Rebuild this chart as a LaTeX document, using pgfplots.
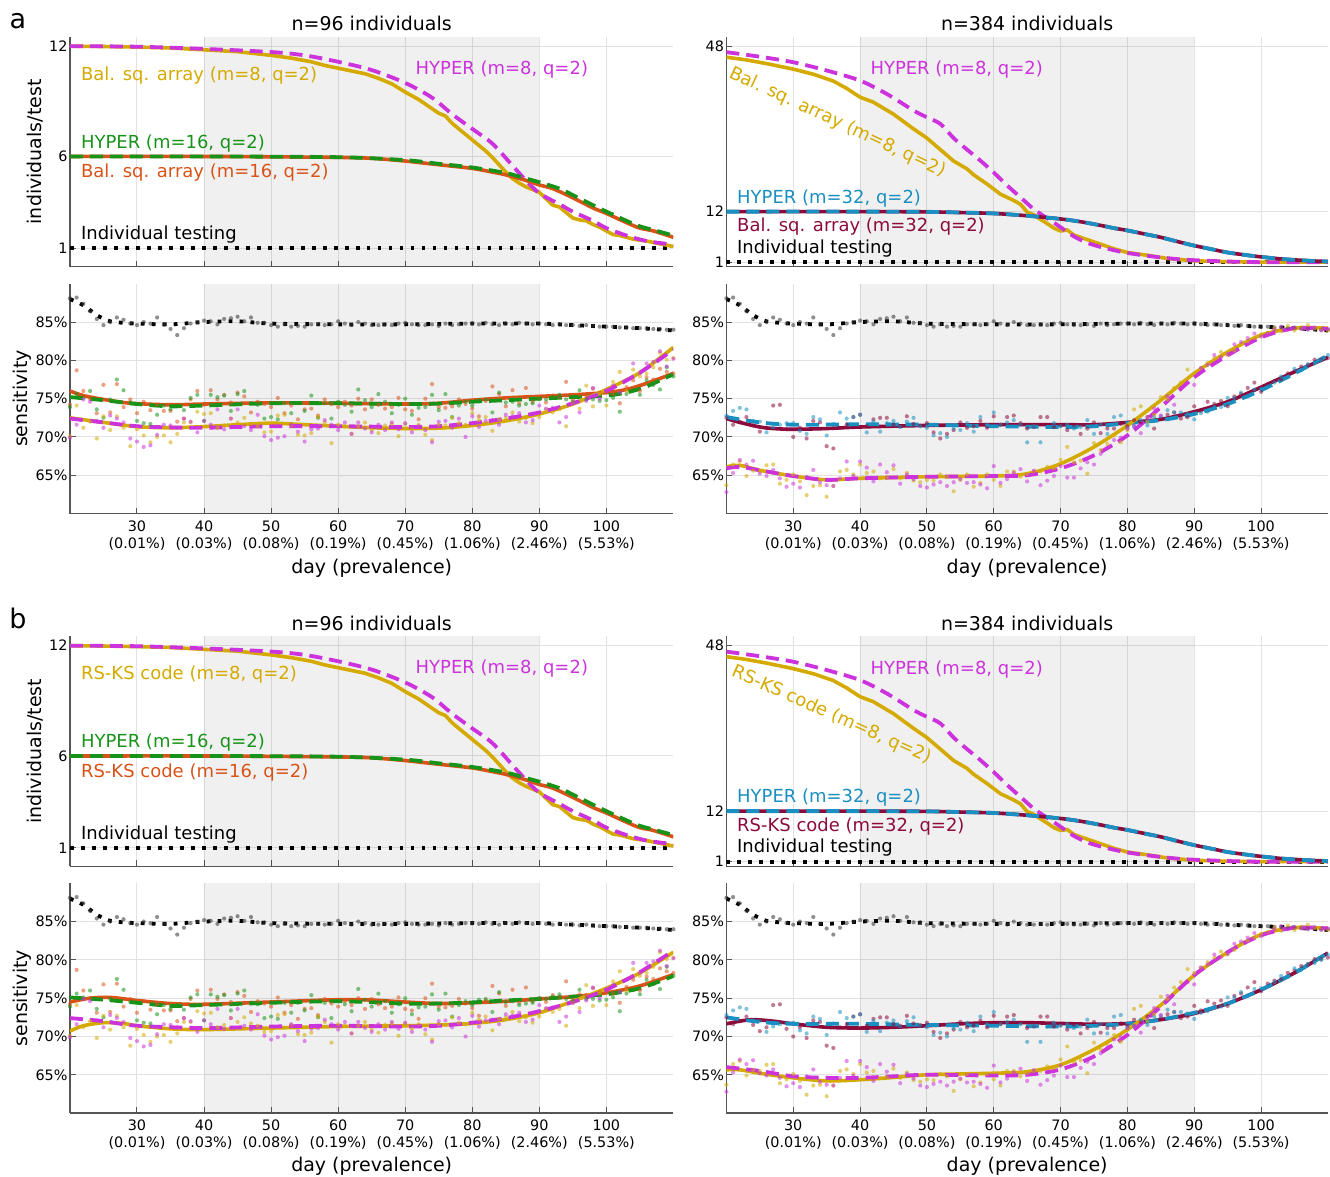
\documentclass[border=0pt]{standalone}
\usepackage{fontspec}
\setmainfont{DejaVu Sans}
\usepackage{pgfplots}
\usepackage{pgfplotstable}
\pgfplotsset{compat=1.18}

\definecolor{cyl}{HTML}{D4AA00}
\definecolor{cmg}{HTML}{CC33DD}
\definecolor{cog}{HTML}{D95319}
\definecolor{cgr}{HTML}{18931A}
\definecolor{cbl}{HTML}{1A8FC1}
\definecolor{cdr}{HTML}{8C0A3C}
\definecolor{axgray}{HTML}{555555}
\definecolor{grgray}{HTML}{E2E2E2}

\tikzset{
  ann/.style={anchor=west, inner sep=0pt, font=\fontsize{9}{10}\selectfont},
  solidc/.style={line width=1.8pt},
  dashc/.style={line width=1.9pt, dash pattern=on 6.5pt off 3.5pt},
  dotk/.style={black, line width=1.9pt, dash pattern=on 1.9pt off 3.6pt},
}
\pgfplotsset{
  base/.style={scale only axis, height=115pt, xmin=20, xmax=110, anchor=south west,
    axis x line*=bottom, axis y line*=left,
    axis line style={draw=axgray, line width=0.7pt},
    xtick={30,40,50,60,70,80,90,100},
    grid=major, major grid style={draw=grgray, line width=0.5pt},
    major tick length=3pt, tick align=inside, tick style={draw=axgray, line width=0.5pt},
    tick label style={font=\fontsize{7.2}{8.5}\selectfont, text=black},
    yticklabel style={inner sep=1pt},
  },
  topL/.style={base, width=302pt, ymin=0, ymax=12.5, ytick={1,6,12}, yticklabels={1,6,12}, xticklabels={}},
  topR/.style={base, width=301pt, ymin=0, ymax=50, ytick={1,12,48}, yticklabels={1,12,48}, xticklabels={}},
  bot/.style={base, ymin=60, ymax=90, ytick={65,70,75,80,85}, yticklabels={65\%,70\%,75\%,80\%,85\%},
    xticklabels={{30\\(0.01\%)},{40\\(0.03\%)},{50\\(0.08\%)},{60\\(0.19\%)},{70\\(0.45\%)},{80\\(1.06\%)},{90\\(2.46\%)},{100\\(5.53\%)}},
    xticklabel style={align=center}},
  botL/.style={bot, width=302pt},
  botR/.style={bot, width=301pt},
  sc/.style={only marks, mark=*, mark size=1.05pt, color=#1, mark options={draw opacity=0, fill=#1, fill opacity=0.55}},
}

% ---------- top curves ----------
\pgfplotstableread{
d v
20 12
30 11.97
40 11.85
50 11.68
55 11.5
60 11.15
65 10.7
70 10.0
74 9.2
77 8.3
80 7.5
83 6.7
86 5.5
88 4.7
90 4.0
93 3.4
95 3.0
98 2.5
100 2.1
103 1.7
106 1.4
110 1.2
}\tLmg
\pgfplotstableread{
d v
20 12
25 11.98
30 11.95
35 11.9
40 11.8
45 11.7
50 11.5
53 11.35
56 11.15
58 10.95
60 10.8
62 10.65
64 10.5
66 10.25
68 9.95
70 9.5
72 9.1
74 8.6
75 8.35
76 8.2
77 7.8
78 7.5
79 7.2
80 6.9
81 6.6
82 6.3
83 5.95
84 5.55
85 5.15
86 4.8
87 4.55
88 4.35
89 4.2
90 4.05
91 3.7
92 3.35
93 3.25
94 2.95
95 2.65
96 2.55
97 2.5
98 2.3
99 2.15
100 1.95
101 1.75
102 1.7
103 1.6
104 1.5
106 1.4
108 1.25
110 1.1
}\tLyl
\pgfplotstableread{
d v
20 6
40 6
50 5.98
60 5.95
65 5.9
70 5.75
75 5.55
80 5.35
83 5.15
85 5.0
88 4.7
90 4.45
92 4.25
95 3.75
98 3.2
100 2.9
103 2.4
105 2.1
107 1.95
110 1.6
}\tLog
\pgfplotstableread{
d v
20 6
40 6
60 5.96
70 5.8
75 5.6
80 5.4
85 5.1
88 4.8
90 4.6
93 4.25
95 3.9
98 3.35
100 3.0
103 2.5
105 2.2
107 2.0
110 1.7
}\tLgr
\pgfplotstableread{
d v
20 46.7
25 45.7
30 44.5
35 42.7
40 40.5
44 37.6
48 34.0
50 32.5
52 31.1
54 28.0
56 25.5
58 23.1
60 20.5
62 17.7
64 15.1
66 12.5
67 11.5
69 9.6
70 8.6
72 6.6
74 5.2
76 4.3
78 3.6
80 3.0
84 2.2
88 1.6
92 1.3
96 1.1
100 1.0
110 1.0
}\tRmg
\pgfplotstableread{
d v
20 45.6
23 45.0
26 44.2
30 43.0
33 41.9
36 40.4
38 38.8
40 36.9
42 35.8
45 33.2
48 30.0
50 28.0
52 25.5
54 23.0
56 21.3
57 20.0
59 18.0
61 15.8
63 14.4
64 13.6
65 11.9
66 11.3
67 10.3
68 9.4
69 8.4
70 7.8
71 8.0
72 6.9
74 5.9
76 4.9
78 3.9
80 3.1
83 2.5
86 1.8
90 1.3
95 1.1
100 1.0
110 1.0
}\tRyl
\pgfplotstableread{
d v
20 12
40 12
50 11.95
55 11.8
60 11.6
65 11.1
70 10.4
73 9.8
76 9.0
78 8.4
80 7.9
83 7.0
85 6.4
88 5.3
90 4.6
93 3.7
95 3.1
98 2.5
100 2.15
103 1.7
105 1.5
108 1.25
110 1.15
}\tRdr

% ---------- scatter ----------
\pgfplotstableread{
d bk og gr yl mg
20 88.1 74.2 73.9 70.1 69.9
21 88.2 78.7 75.6 74.1 71.6
22 87.4 76.0 75.1 71.2 74.9
23 86.4 75.0 76.0 72.0 74.6
24 85.4 73.1 73.6 69.8 72.1
25 84.6 76.8 72.5 72.7 71.2
26 85.0 73.2 74.9 70.9 72.8
27 85.6 76.9 77.5 72.7 72.4
28 85.3 73.9 76.1 71.2 71.9
29 84.8 74.9 74.5 68.8 69.8
30 84.6 73.1 72.1 71.0 69.4
31 85.0 74.6 71.8 70.2 68.7
32 84.8 73.5 71.7 69.3 68.9
33 85.6 74.2 72.9 70.0 70.3
34 84.7 73.4 74.1 70.2 71.6
35 84.1 73.4 73.6 69.3 71.5
36 83.3 72.0 74.1 70.4 71.2
37 84.2 72.4 73.5 71.9 72.4
38 84.8 74.9 75.1 71.9 72.0
39 85.0 76.0 75.5 73.3 70.6
40 85.2 74.2 72.1 73.0 72.1
41 85.1 76.1 75.5 73.1 71.6
42 84.7 74.9 75.2 71.2 73.6
43 85.4 75.5 75.4 71.5 71.0
44 85.5 74.5 73.4 72.4 72.4
45 85.7 75.8 75.6 71.9 73.6
46 85.1 75.3 76.0 72.5 71.4
47 85.6 73.2 74.4 71.7 70.9
48 84.9 74.6 74.2 71.4 72.9
49 84.9 74.3 72.4 70.6 70.1
50 84.6 73.9 72.6 70.7 69.6
51 84.4 75.1 72.3 72.8 69.9
52 84.7 73.1 74.4 72.9 70.1
53 84.4 74.1 73.1 71.5 71.6
54 84.5 72.3 74.4 70.3 70.7
55 84.4 73.6 73.4 70.2 69.4
56 84.7 73.7 75.4 70.5 71.0
57 84.7 72.8 72.5 72.6 71.1
58 84.6 74.9 74.4 71.9 72.2
59 84.7 74.3 72.4 69.2 71.6
60 85.1 73.9 74.6 71.6 70.9
61 84.8 74.6 74.2 71.4 71.9
62 84.6 74.1 73.3 70.4 70.4
63 85.0 75.0 76.2 71.4 71.9
64 84.8 73.6 74.8 71.9 71.1
65 84.6 74.9 73.9 70.9 70.6
66 84.6 74.2 75.6 70.5 71.6
67 84.7 73.7 74.6 71.5 70.9
68 84.6 73.9 73.1 71.7 71.9
69 84.8 75.1 74.2 70.1 71.0
70 84.9 73.6 75.0 71.7 71.8
71 84.7 73.4 72.9 71.0 70.6
72 84.6 72.3 73.8 71.6 71.4
73 84.6 75.0 73.9 70.3 70.9
74 84.7 76.9 75.5 69.6 69.3
75 84.5 73.9 73.5 71.6 72.0
76 84.8 73.8 75.6 71.5 72.1
77 84.6 74.0 72.6 72.5 71.2
78 84.7 74.9 74.1 71.8 72.4
79 84.8 74.3 74.6 71.6 70.0
80 84.8 73.7 74.1 73.1 72.7
81 84.7 72.7 74.8 72.2 71.3
82 84.9 74.7 74.9 72.6 72.1
83 84.7 76.6 73.2 70.8 72.2
84 84.6 75.6 75.8 72.3 71.6
85 84.8 74.0 74.5 72.5 72.9
86 84.7 76.1 74.6 73.2 72.7
87 84.9 74.4 74.1 72.0 73.1
88 84.8 76.4 74.3 72.5 71.9
89 84.7 74.6 74.4 71.8 72.2
90 84.8 75.0 75.0 72.6 74.1
91 84.7 74.5 74.9 73.6 73.7
92 84.6 75.4 75.2 73.2 73.8
93 84.7 75.2 75.5 73.6 71.9
94 84.6 77.2 74.9 71.4 72.6
95 84.6 74.8 74.6 74.4 74.4
96 84.5 75.5 76.1 73.7 73.2
97 84.6 75.4 74.9 76.7 74.7
98 84.5 76.3 74.9 74.0 76.4
99 84.4 75.8 74.7 75.6 75.0
100 84.4 75.8 74.8 74.1 76.0
101 84.4 75.6 75.1 77.2 76.7
102 84.3 74.4 73.3 78.5 75.8
103 84.3 76.5 75.6 76.0 77.4
104 84.2 77.4 76.1 78.8 79.6
105 84.2 76.0 75.5 77.9 78.3
106 84.2 77.8 77.4 78.3 79.6
107 84.1 77.5 76.8 79.1 79.8
108 84.1 78.9 76.2 81.0 81.2
109 84.0 78.5 79.1 80.1 79.2
110 84.0 78.3 77.9 80.3 80.2
}\scL
\pgfplotstableread{
d dr bl yl mg
20 72.5 72.8 63.7 62.8
21 71.6 73.4 66.4 65.3
22 72.0 73.8 66.8 67.0
23 72.6 73.6 64.9 66.4
24 71.5 72.1 65.6 66.9
25 70.7 72.0 65.5 65.2
26 71.2 70.6 66.3 64.9
27 74.1 71.3 66.4 65.7
28 74.2 71.6 63.9 64.6
29 71.0 71.8 64.4 63.5
30 70.0 71.8 65.1 63.9
31 71.2 70.8 64.2 63.4
32 69.8 70.4 62.4 64.8
33 72.1 72.6 63.6 65.7
34 71.9 72.3 63.7 64.1
35 68.8 70.2 62.2 63.7
36 68.5 71.7 63.6 63.6
37 71.2 73.2 65.5 64.6
38 71.6 72.4 65.7 66.8
39 72.6 72.6 65.1 64.9
40 72.9 72.9 66.4 66.8
41 71.4 70.6 65.3 66.0
42 72.3 72.0 65.5 64.2
43 72.5 70.7 64.6 66.4
44 72.5 71.8 64.7 65.4
45 71.6 72.1 65.8 66.3
46 71.4 71.3 64.6 63.9
47 72.7 72.0 65.3 65.1
48 71.7 72.5 64.3 64.5
49 71.5 71.4 64.1 63.6
50 71.8 71.2 64.4 63.4
51 70.6 70.2 64.3 63.8
52 69.8 70.5 65.1 64.1
53 70.4 70.0 64.8 63.6
54 70.9 71.1 62.9 64.1
55 71.9 70.9 64.4 64.5
56 71.2 71.8 65.1 64.0
57 71.4 70.7 63.5 64.1
58 72.1 72.6 64.0 63.8
59 71.2 71.6 65.1 63.3
60 72.7 73.2 64.4 66.2
61 71.6 71.6 63.6 64.0
62 72.6 71.9 65.5 64.5
63 72.8 72.2 65.5 65.3
64 71.8 71.6 64.8 65.8
65 71.1 69.3 65.2 64.2
66 71.3 71.4 65.5 65.6
67 72.6 69.3 65.5 63.7
68 72.6 71.3 66.1 64.3
69 71.3 71.8 65.9 64.9
70 71.5 71.4 67.0 66.2
71 70.9 71.6 68.7 64.7
72 71.5 71.1 66.7 64.7
73 70.4 71.3 66.9 65.9
74 71.1 72.2 65.2 66.7
75 71.9 70.4 69.2 66.4
76 70.5 71.6 68.3 67.8
77 71.1 70.4 69.1 68.6
78 71.1 72.6 70.2 69.6
79 71.7 72.8 69.3 69.9
80 71.4 71.1 70.9 71.1
81 72.2 71.4 73.6 71.4
82 71.9 72.2 74.0 70.5
83 72.6 71.5 72.0 72.4
84 71.1 72.6 72.9 73.7
85 72.4 72.7 75.2 72.8
86 72.9 73.5 74.9 75.3
87 73.2 73.2 76.4 74.2
88 72.4 73.2 77.1 76.4
89 72.6 73.0 78.8 77.1
90 74.0 72.3 78.3 76.8
91 73.4 73.1 79.0 79.0
92 74.6 73.3 79.7 79.4
93 74.3 73.9 80.3 80.7
94 74.7 73.9 81.1 80.4
95 74.0 75.1 80.7 80.8
96 75.3 75.1 81.3 82.1
97 75.6 75.8 82.1 82.4
98 76.4 75.3 82.5 82.9
99 77.1 76.2 82.9 83.5
100 75.9 76.3 83.4 83.1
101 76.9 76.6 83.6 83.5
102 77.3 77.1 84.2 84.0
103 77.5 77.9 83.8 84.4
104 78.3 77.8 84.5 84.0
105 78.6 78.9 83.9 84.3
106 79.2 78.7 84.3 84.1
107 79.4 79.5 84.6 84.0
108 80.1 79.6 84.2 84.3
109 80.1 80.0 84.0 83.9
110 80.3 80.7 83.9 84.1
}\scR

\newcommand{\shadeband}{\fill[black, fill opacity=0.06] ({axis cs:40,0}|-{rel axis cs:0,0}) rectangle ({axis cs:90,0}|-{rel axis cs:0,1});}
\newcommand{\blackline}{\addplot[dotk, smooth] coordinates {(20,88.0) (22,87.2) (24,85.9) (26,85.1) (28,84.9) (30,84.8) (35,84.7) (40,85.0) (45,85.1) (50,84.8) (60,84.7) (70,84.7) (80,84.8) (90,84.8) (95,84.6) (100,84.4) (105,84.2) (110,83.9)};}

\newcommand{\TopLeft}[2]{%
\begin{axis}[topL, at={(35pt,#1)}]
\shadeband
\addplot[dotk] coordinates {(20,1) (110,1)};
\addplot[cyl, solidc] table[x=d,y=v]{\tLyl};
\addplot[cmg, dashc, smooth] table[x=d,y=v]{\tLmg};
\addplot[cog, solidc, smooth] table[x=d,y=v]{\tLog};
\addplot[cgr, dashc, smooth] table[x=d,y=v]{\tLgr};
\node[ann, text=cyl] at (axis cs:21.6,10.41) {#2 (m=8, q=2)};
\node[ann, text=cmg] at (axis cs:71.5,10.74) {HYPER (m=8, q=2)};
\node[ann, text=cgr] at (axis cs:21.6,6.72) {HYPER (m=16, q=2)};
\node[ann, text=cog] at (axis cs:21.6,5.12) {#2 (m=16, q=2)};
\node[ann, text=black] at (axis cs:21.6,1.75) {Individual testing};
\end{axis}}

\newcommand{\TopRight}[4]{%
\begin{axis}[topR, at={(363.5pt,#1)}]
\shadeband
\addplot[dotk] coordinates {(20,1) (110,1)};
\addplot[cyl, solidc] table[x=d,y=v]{\tRyl};
\addplot[cmg, dashc, smooth] table[x=d,y=v]{\tRmg};
\addplot[cdr, solidc, smooth] table[x=d,y=v]{\tRdr};
\addplot[cbl, dashc, smooth] table[x=d,y=v]{\tRdr};
\node[ann, text=cmg] at (axis cs:41.5,42.9) {HYPER (m=8, q=2)};
\node[font=\fontsize{9}{10}\selectfont, inner sep=0pt, text=cyl, rotate=#4, anchor=center] at (axis cs:#3) {#2 (m=8, q=2)};
\node[ann, text=cbl] at (axis cs:21.55,14.9) {HYPER (m=32, q=2)};
\node[ann, text=cdr] at (axis cs:21.55,8.75) {#2 (m=32, q=2)};
\node[ann, text=black] at (axis cs:21.55,4.0) {Individual testing};
\end{axis}}

\begin{document}
\begin{tikzpicture}

% ===================== block a =====================
\TopLeft{455pt}{Bal. sq. array}
\TopRight{455pt}{Bal. sq. array}{36.65,31.4}{-25}

\begin{axis}[botL, at={(35pt,331.5pt)}]
\shadeband
\addplot[sc=black!80] table[x=d,y=bk]{\scL};
\addplot[sc=cog] table[x=d,y=og]{\scL};
\addplot[sc=cgr] table[x=d,y=gr]{\scL};
\addplot[sc=cyl] table[x=d,y=yl]{\scL};
\addplot[sc=cmg] table[x=d,y=mg]{\scL};
\blackline
\addplot[cog, solidc, smooth] coordinates {(20,76.0) (22,75.4) (25,74.9) (28,74.5) (30,74.35) (35,74.2) (40,74.3) (50,74.45) (60,74.4) (70,74.3) (75,74.4) (80,74.8) (85,75.1) (90,75.3) (95,75.5) (100,75.8) (103,76.2) (106,77.0) (110,78.3)};
\addplot[cgr, dashc, smooth] coordinates {(20,75.2) (25,74.8) (30,74.3) (35,74.0) (40,74.1) (50,74.4) (60,74.4) (70,74.3) (75,74.35) (80,74.6) (85,74.8) (90,75.0) (95,75.2) (100,75.4) (103,75.8) (106,76.6) (110,78.2)};
\addplot[cyl, solidc, smooth] coordinates {(20,72.5) (25,71.9) (30,71.35) (35,71.2) (40,71.35) (45,71.6) (50,71.8) (55,71.6) (60,71.4) (65,71.2) (70,71.1) (75,71.15) (80,71.5) (85,72.1) (90,73.0) (95,74.3) (100,76.2) (105,78.4) (110,81.7)};
\addplot[cmg, dashc, smooth] coordinates {(20,72.4) (25,71.9) (30,71.4) (35,71.25) (40,71.2) (50,71.4) (60,71.4) (70,71.3) (75,71.4) (80,71.8) (85,72.4) (90,73.2) (95,74.4) (100,76.0) (105,78.4) (110,81.4)};
\end{axis}

\begin{axis}[botR, at={(363.5pt,331.5pt)}]
\shadeband
\addplot[sc=black!80] table[x=d,y=bk]{\scL};
\addplot[sc=cdr] table[x=d,y=dr]{\scR};
\addplot[sc=cbl] table[x=d,y=bl]{\scR};
\addplot[sc=cyl] table[x=d,y=yl]{\scR};
\addplot[sc=cmg] table[x=d,y=mg]{\scR};
\blackline
\addplot[cdr, solidc, smooth] coordinates {(20,72.4) (22,71.9) (25,71.3) (27,71.1) (30,71.0) (35,71.1) (40,71.3) (50,71.5) (60,71.6) (70,71.6) (75,71.6) (80,71.9) (85,72.3) (90,73.3) (95,74.6) (100,76.5) (105,78.5) (110,80.4)};
\addplot[cbl, dashc, smooth] coordinates {(20,72.6) (25,71.9) (30,71.6) (40,71.65) (50,71.6) (60,71.4) (70,71.3) (75,71.4) (80,71.8) (85,72.2) (90,73.0) (95,74.3) (100,76.1) (105,78.3) (110,80.65)};
\addplot[cyl, solidc, smooth] coordinates {(20,66.1) (22,66.3) (25,65.65) (30,64.9) (35,64.4) (40,64.6) (50,64.8) (60,64.9) (65,65.2) (70,66.5) (75,68.7) (80,71.5) (85,74.8) (90,78.3) (95,81.1) (100,83.3) (105,84.2) (110,84.2)};
\addplot[cmg, dashc, smooth] coordinates {(20,65.9) (22,66.1) (25,65.65) (30,64.9) (35,64.4) (40,64.6) (50,64.8) (60,64.9) (65,65.0) (70,65.9) (75,67.6) (80,70.2) (85,73.9) (90,77.8) (95,80.65) (100,83.0) (105,84.2) (110,84.1)};
\end{axis}

% ===================== block b =====================
\TopLeft{155pt}{RS-KS code}
\TopRight{155pt}{RS-KS code}{35.7,32.9}{-24}

\begin{axis}[botL, at={(35pt,31.5pt)}]
\shadeband
\addplot[sc=black!80] table[x=d,y=bk]{\scL};
\addplot[sc=cog] table[x=d,y=og]{\scL};
\addplot[sc=cgr] table[x=d,y=gr]{\scL};
\addplot[sc=cyl] table[x=d,y=yl]{\scL};
\addplot[sc=cmg] table[x=d,y=mg]{\scL};
\blackline
\addplot[cog, solidc, smooth] coordinates {(20,74.5) (23,75.0) (26,75.1) (30,74.7) (35,74.3) (40,74.2) (50,74.5) (60,74.8) (65,74.75) (70,74.5) (75,74.3) (80,74.4) (85,74.6) (90,74.9) (95,75.2) (100,75.7) (105,76.6) (110,78.1)};
\addplot[cgr, dashc, smooth] coordinates {(20,75.1) (25,74.8) (30,74.4) (35,74.0) (40,74.1) (50,74.4) (60,74.6) (70,74.3) (75,74.3) (80,74.45) (85,74.7) (90,74.9) (95,75.2) (100,75.5) (105,76.3) (110,77.9)};
\addplot[cyl, solidc, smooth] coordinates {(20,70.7) (22,71.4) (25,71.8) (28,71.7) (30,71.4) (35,71.0) (40,70.9) (50,71.1) (60,71.3) (70,71.4) (75,71.5) (80,71.7) (85,72.2) (90,73.1) (95,74.6) (100,76.3) (105,78.3) (110,81.0)};
\addplot[cmg, dashc, smooth] coordinates {(20,72.4) (25,72.0) (30,71.4) (40,71.1) (50,71.3) (60,71.4) (70,71.3) (75,71.4) (80,71.8) (85,72.4) (90,73.3) (95,74.5) (100,76.1) (105,78.4) (110,81.2)};
\end{axis}

\begin{axis}[botR, at={(363.5pt,31.5pt)}]
\shadeband
\addplot[sc=black!80] table[x=d,y=bk]{\scL};
\addplot[sc=cdr] table[x=d,y=dr]{\scR};
\addplot[sc=cbl] table[x=d,y=bl]{\scR};
\addplot[sc=cyl] table[x=d,y=yl]{\scR};
\addplot[sc=cmg] table[x=d,y=mg]{\scR};
\blackline
\addplot[cdr, solidc, smooth] coordinates {(20,71.65) (22,72.0) (24,72.2) (27,72.0) (30,71.65) (35,71.2) (40,71.1) (45,71.2) (50,71.4) (55,71.65) (60,71.8) (65,71.8) (70,71.7) (75,71.6) (80,71.7) (85,72.2) (90,73.0) (95,74.3) (100,76.1) (105,78.3) (110,80.9)};
\addplot[cbl, dashc, smooth] coordinates {(20,72.5) (25,71.9) (30,71.65) (40,71.65) (50,71.5) (60,71.4) (70,71.3) (75,71.4) (80,71.65) (85,72.2) (90,73.1) (95,74.3) (100,76.1) (105,78.3) (110,80.9)};
\addplot[cyl, solidc, smooth] coordinates {(20,65.65) (22,65.65) (25,65.2) (30,64.6) (35,64.2) (40,64.35) (45,64.65) (50,65.0) (60,65.2) (65,65.4) (70,66.3) (75,68.3) (80,70.9) (85,74.1) (90,78.0) (95,81.0) (100,83.3) (105,84.2) (110,84.1)};
\addplot[cmg, dashc, smooth] coordinates {(20,66.0) (25,65.5) (30,64.8) (35,64.6) (40,64.6) (45,64.8) (50,65.0) (60,64.9) (65,65.0) (70,65.7) (75,67.4) (80,70.2) (85,73.9) (90,78.0) (95,81.0) (100,83.2) (105,84.2) (110,84.1)};
\end{axis}

% ===================== labels =====================
\begin{scope}[every node/.style={font=\fontsize{9.5}{11}\selectfont, inner sep=0pt}]
\node at (186pt,576.6pt) {n=96 individuals};
\node at (514pt,576.6pt) {n=384 individuals};
\node at (186pt,276.6pt) {n=96 individuals};
\node at (514pt,276.6pt) {n=384 individuals};
\node[rotate=90] at (17.5pt,512.5pt) {individuals/test};
\node[rotate=90] at (11.3pt,389pt) {sensitivity};
\node[rotate=90] at (17.5pt,212.5pt) {individuals/test};
\node[rotate=90] at (11.3pt,89pt) {sensitivity};
\node at (186pt,304.3pt) {day (prevalence)};
\node at (514pt,304.3pt) {day (prevalence)};
\node at (186pt,5.0pt) {day (prevalence)};
\node at (514pt,5.0pt) {day (prevalence)};
\end{scope}
\node[font=\fontsize{13.5}{15}\selectfont, inner sep=0pt] at (9pt,577.8pt) {a};
\node[font=\fontsize{13.5}{15}\selectfont, inner sep=0pt] at (9pt,279pt) {b};
\path (0pt,0pt) rectangle (665pt,588.5pt);
\end{tikzpicture}
\end{document}
